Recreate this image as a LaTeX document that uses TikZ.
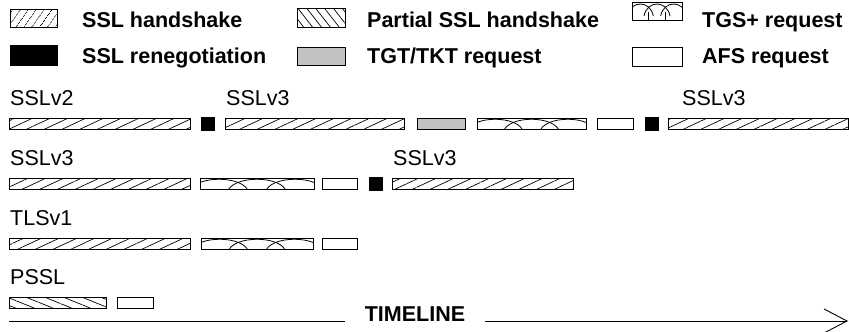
\documentclass[tikz,border=0pt]{standalone}
\usepackage{fontspec}
\setmainfont{Liberation Sans}
\usepackage{tikz}
\usetikzlibrary{calc}
\usetikzlibrary{arrows.meta,patterns.meta}
\usetikzlibrary{positioning}
\newcommand{\tlfont}{\fontsize{21.5}{26}\selectfont}
\tikzstyle{bx}=[draw, line width=0.9pt, inner sep=0, outer sep=0, minimum height=11.5, anchor=west]
\tikzstyle{hs}=[bx, pattern={Lines[angle=25,distance=7.5pt,line width=0.7pt]}]
\tikzstyle{phs}=[bx, pattern={Lines[angle=-22,distance=7pt,line width=0.7pt]}]
\tikzstyle{reneg}=[bx, fill=black, minimum width=13, minimum height=13]
\tikzstyle{tgt}=[bx, fill=black!24]
\tikzstyle{afs}=[bx, fill=white]
\tikzstyle{lbl}=[anchor=base west, inner sep=0, font=\tlfont]
\tikzstyle{lgt}=[anchor=base west, inner sep=0, font=\tlfont\bfseries]
\tikzstyle{hit}=[line width=0.9pt, -{Straight Barb[length=23pt,width=24pt]}]
\tikzset{tgs/.style 2 args={bx, fill=white, path picture={
  \foreach \k in {0,1,2}{
    \draw[line width=0.8pt] ($(path picture bounding box.south west)!{(\k-0.28)/3}!(path picture bounding box.south east)+(0pt,#1)$) .. controls +(3pt,#2) and +(-3pt,#2) .. ($(path picture bounding box.south west)!{(\k+1.28)/3}!(path picture bounding box.south east)+(0pt,#1)$);
    \draw[line width=0.8pt] ($(path picture bounding box.south west)!{\k/3}!(path picture bounding box.south east)$) -- +(0pt,#1+4pt);
  }}}}

\begin{document}
\begin{tikzpicture}[x=1pt,y=-1pt]
\useasboundingbox (0,0) rectangle (849,332);
% legend
\node[hs, anchor=north west, minimum width=47, minimum height=18, pattern={Lines[angle=55,distance=6.5pt,line width=0.7pt]}] (k1) at (10,9) {};
\node[lgt] (t1) at (82,27.5) {SSL handshake};
\node[reneg, anchor=north west, minimum width=47, minimum height=20] (k2) at (10,45) {};
\node[lgt] (t2) at (82,63) {SSL renegotiation};
\node[phs, anchor=north west, minimum width=48, minimum height=19, pattern={Lines[angle=-52,distance=7pt,line width=0.7pt]}] (k3) at (297,8.5) {};
\node[lgt] (t3) at (367,27.5) {Partial SSL handshake};
\node[tgt, anchor=north west, minimum width=48, minimum height=18] (k4) at (297,47) {};
\node[lgt] (t4) at (367,63) {TGT/TKT request};
\node[tgs={4pt}{16pt}, anchor=north west, minimum width=50, minimum height=18] (k5) at (632,2) {};
\node[lgt] (t5) at (702,27.5) {TGS+ request};
\node[afs, anchor=north west, minimum width=50, minimum height=19] (k6) at (632,47) {};
\node[lgt] (t6) at (702,63) {AFS request};
% rows
\coordinate (R1) at (0,124);
\coordinate (R2) at (0,184);
\coordinate (R3) at (0,244);
\coordinate (R4) at (0,303);
% SSLv2 / SSLv3
\node[hs, minimum width=181] (a1) at ($(R1)+(9,0)$) {};
\node[reneg] (a2) at ($(R1)+(201,0)$) {};
\node[hs, minimum width=179] (a3) at ($(R1)+(225,0)$) {};
\node[tgt, minimum width=48] (a4) at ($(R1)+(417,0)$) {};
\node[tgs={-3pt}{18pt}, minimum width=109] (a5) at ($(R1)+(477,0)$) {};
\node[afs, minimum width=36] (a6) at ($(R1)+(597,0)$) {};
\node[reneg] (a7) at ($(R1)+(645,0)$) {};
\node[hs, minimum width=180] (a8) at ($(R1)+(668,0)$) {};
\node[lbl] (v1) at ($(a1.north west)+(1,-12.5)$) {SSLv2};
\node[lbl] (v2) at ($(a3.north west)+(1,-12.5)$) {SSLv3};
\node[lbl] (v3) at ($(a8.north west)+(14,-12.5)$) {SSLv3};
% SSLv3
\node[hs, minimum width=181] (b1) at ($(R2)+(9,0)$) {};
\node[tgs={-3pt}{18pt}, minimum width=114] (b2) at ($(R2)+(200,0)$) {};
\node[afs, minimum width=35] (b3) at ($(R2)+(322,0)$) {};
\node[reneg] (b4) at ($(R2)+(369,0)$) {};
\node[hs, minimum width=181] (b5) at ($(R2)+(392,0)$) {};
\node[lbl] (w1) at ($(b1.north west)+(1,-12.5)$) {SSLv3};
\node[lbl] (w2) at ($(b5.north west)+(1,-12.5)$) {SSLv3};
% TLSv1
\node[hs, minimum width=181] (c1) at ($(R3)+(9,0)$) {};
\node[tgs={-3pt}{18pt}, minimum width=112] (c2) at ($(R3)+(201,0)$) {};
\node[afs, minimum width=35] (c3) at ($(R3)+(322,0)$) {};
\node[lbl] (x1) at ($(c1.north west)+(1,-12.5)$) {TLSv1};
% PSSL
\node[phs, minimum width=97] (d1) at ($(R4)+(9,0)$) {};
\node[afs, minimum width=36] (d2) at ($(R4)+(117,0)$) {};
\node[lbl] (y1) at ($(d1.north west)+(1,-12.5)$) {PSSL};
% timeline
\coordinate (T0) at (9,321);
\coordinate (T1) at (848,321);
\node[lgt, anchor=base, inner xsep=20] (tl) at (415,321) {TIMELINE};
\draw[line width=0.9pt] (T0) -- (tl.base west);
\draw[hit] (tl.base east) -- (T1);
\end{tikzpicture}
\end{document}
